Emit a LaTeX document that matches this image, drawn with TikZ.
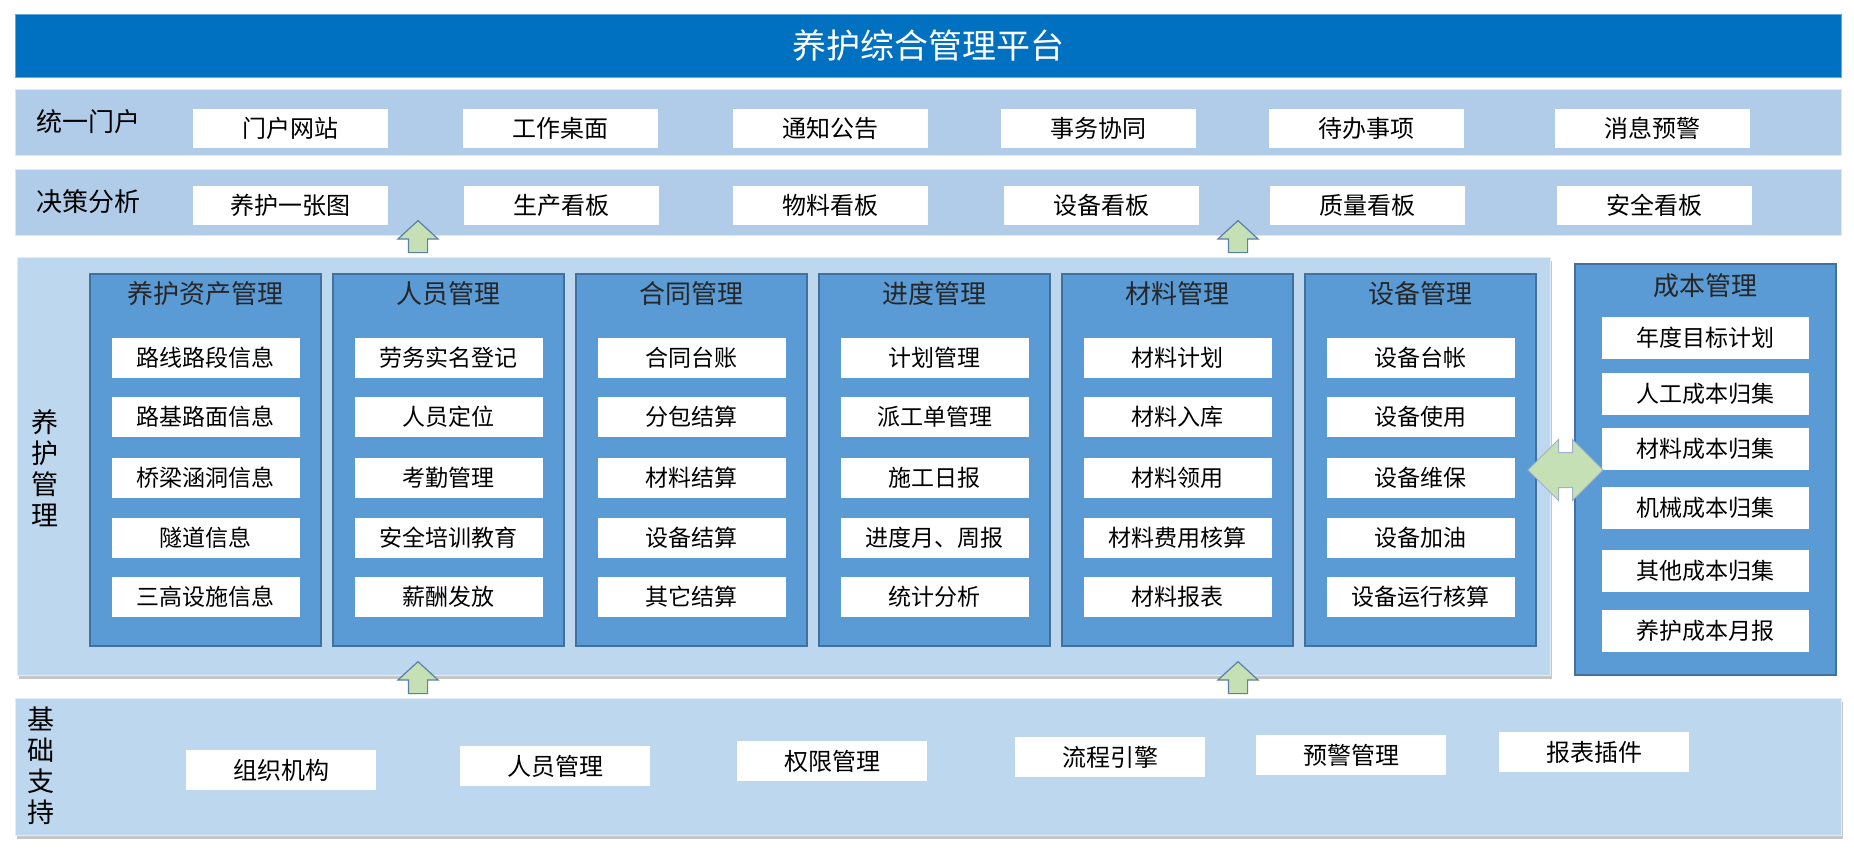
\documentclass[tikz,border=0pt]{standalone}
\usepackage{fontspec}
\setmainfont{Noto Sans CJK SC}
\usetikzlibrary{shapes.arrows,shadows}

\definecolor{titleblue}{HTML}{0070C0}
\definecolor{rowblue}{HTML}{B0CCE8}
\definecolor{layerblue}{HTML}{BDD7EE}
\definecolor{modblue}{HTML}{5B9BD5}
\definecolor{modline}{HTML}{41719C}
\definecolor{arrowgreen}{HTML}{C5E0B4}
\definecolor{arrowline}{HTML}{5B7FA6}

\begin{document}
\begin{tikzpicture}[x=1pt, y=-1pt,
        band/.style={fill=rowblue, draw=white!55!rowblue, line width=1pt, inner sep=0pt, minimum width=1826pt, minimum height=66pt},
        layer/.style={fill=layerblue, draw=white!55!layerblue, line width=1pt, inner sep=0pt,
            drop shadow={shadow xshift=2pt, shadow yshift=-4pt, fill=black!50, opacity=0.45}},
        cell/.style={fill=white, inner sep=0pt, minimum width=195pt, minimum height=39pt, font=\fontsize{24}{28}\selectfont},
        basecell/.style={cell, minimum width=190pt, minimum height=40pt},
        module/.style={fill=modblue, draw=modline, line width=1.2pt, minimum width=231pt, minimum height=372pt, inner sep=0pt},
        modtitle/.style={font=\fontsize{26}{30}\selectfont, text=black!85},
        item/.style={fill=white, inner sep=0pt, minimum width=188pt, minimum height=40pt, font=\fontsize{23}{28}\selectfont},
        costitem/.style={item, minimum width=207pt, minimum height=42pt},
        rowlabel/.style={anchor=west, font=\fontsize{26}{30}\selectfont},
        vlabel/.style={align=center, font=\fontsize{27}{31}\selectfont},
        uparr/.style={single arrow, rotate=90, minimum height=32pt, inner xsep=0pt, inner ysep=9pt,
            single arrow head extend=10.5pt, single arrow tip angle=95, fill=arrowgreen, draw=arrowline, line width=1.2pt},
        dblarr/.style={double arrow, minimum height=75pt, inner xsep=0pt, inner ysep=17pt,
            double arrow head extend=13pt, double arrow tip angle=90, fill=arrowgreen, draw=arrowline!60, line width=1pt}
    ]
    \useasboundingbox (0,0) rectangle (1854,854);

    % Titel
    \node[fill=titleblue, draw=titleblue!60, line width=1pt, minimum width=1826pt, minimum height=63pt, inner sep=0pt,
        text=white, font=\fontsize{34}{40}\selectfont] (title) at (928,45.5) {养护综合管理平台};

    % Ebenen
    \node[band] (portal) at (928,122) {};
    \node[band] (decide) at (928,202) {};
    \node[layer, minimum width=1533pt, minimum height=418pt] (maint) at (783.5,466) {};
    \node[layer, minimum width=1826pt, minimum height=137pt] (base) at (928,766.5) {};
    \node[module, minimum width=261pt, minimum height=411pt] (cost) at (1705.5,469.5) {};

    % Beschriftungen
    \node[rowlabel] (portal-l) at (33,122) {统一门户};
    \node[rowlabel] (decide-l) at (33,202) {决策分析};
    \node[vlabel] (maint-l) at (45,468) {养\\护\\管\\理};
    \node[vlabel] (base-l) at (41,766) {基\\础\\支\\持};

    %統一门户 / 决策分析
    \foreach \x/\t [count=\k] in {290/门户网站, 560/工作桌面, 830/通知公告, 1098/事务协同, 1366/待办事项, 1652/消息预警}
        \node[cell] (p\k) at (\x,128.5) {\t};
    \foreach \x/\t [count=\k] in {290/养护一张图, 561/生产看板, 830/物料看板, 1101/设备看板, 1367/质量看板, 1654/安全看板}
        \node[cell] (d\k) at (\x,205) {\t};

    % Module
    \foreach \i/\name/\ia/\ib/\ic/\id/\ie in {
        0/养护资产管理/路线路段信息/路基路面信息/桥梁涵洞信息/隧道信息/三高设施信息,
        1/人员管理/劳务实名登记/人员定位/考勤管理/安全培训教育/薪酬发放,
        2/合同管理/合同台账/分包结算/材料结算/设备结算/其它结算,
        3/进度管理/计划管理/派工单管理/施工日报/进度月、周报/统计分析,
        4/材料管理/材料计划/材料入库/材料领用/材料费用核算/材料报表,
        5/设备管理/设备台帐/设备使用/设备维保/设备加油/设备运行核算}
    {
        \node[module] (m\i) at (205.5+243*\i,460) {};
        \node[modtitle] (m\i-t) at (205.5+243*\i,294) {\name};
        \node[item] (m\i-1) at (205.5+243*\i,358) {\ia};
        \node[item] (m\i-2) at (205.5+243*\i,417) {\ib};
        \node[item] (m\i-3) at (205.5+243*\i,478) {\ic};
        \node[item] (m\i-4) at (205.5+243*\i,538) {\id};
        \node[item] (m\i-5) at (205.5+243*\i,597) {\ie};
    }

    % 成本管理
    \node[modtitle] (cost-t) at (1705.5,286) {成本管理};
    \foreach \y/\t [count=\k] in {338/年度目标计划, 394/人工成本归集, 449/材料成本归集, 508/机械成本归集, 571/其他成本归集, 631/养护成本月报}
        \node[costitem] (c\k) at (1705.5,\y) {\t};

    % 基础支持
    \node[basecell] (b1) at (281,770) {组织机构};
    \node[basecell] (b2) at (555,766) {人员管理};
    \node[basecell] (b3) at (832,761) {权限管理};
    \node[basecell] (b4) at (1110,757) {流程引擎};
    \node[basecell] (b5) at (1351,755) {预警管理};
    \node[basecell] (b6) at (1594,752) {报表插件};

    % Pfeile
    \node[uparr] (ua1) at (418,241) {};
    \node[uparr] (ua2) at (1238,241) {};
    \node[uparr] (ub1) at (418,682) {};
    \node[uparr] (ub2) at (1238,682) {};
    \node[dblarr] (da) at (1565.5,470) {};
\end{tikzpicture}
\end{document}
